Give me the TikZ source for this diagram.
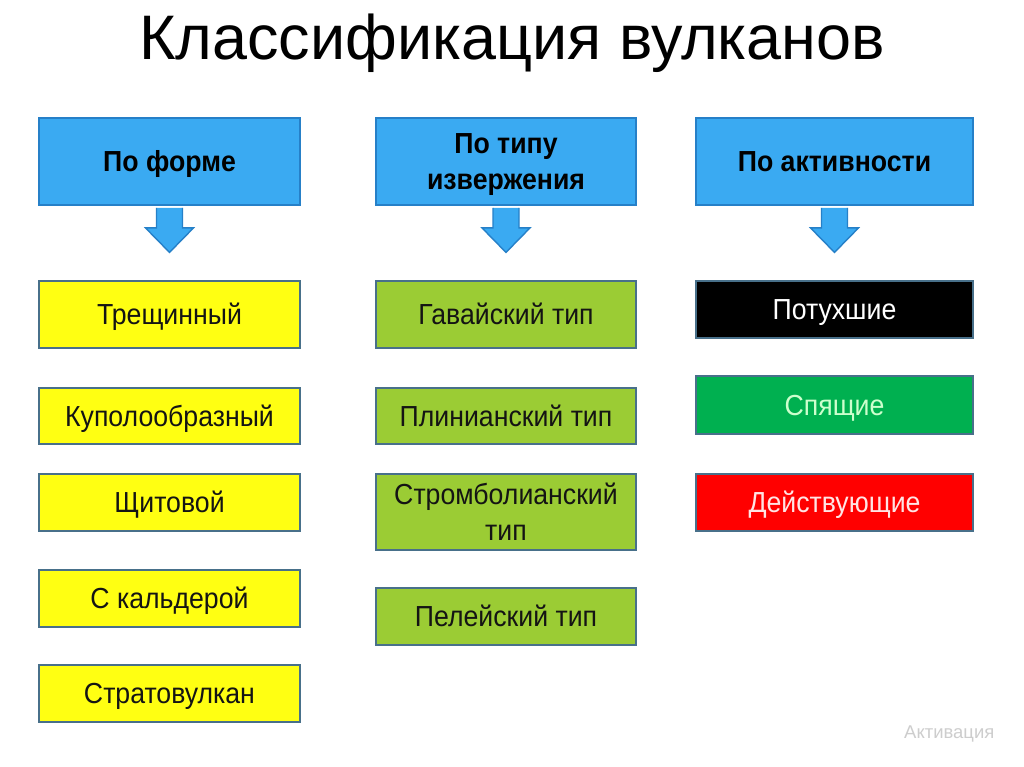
\documentclass[tikz,border=0pt]{standalone}
\usepackage{fontspec}
\setmainfont{Liberation Sans}
\newfontfamily\itemfont[FakeStretch=0.92]{Liberation Sans}
\usetikzlibrary{calc}
\definecolor{HeadClr}{RGB}{58,170,242}
\definecolor{HeadLineClr}{RGB}{38,128,200}
\definecolor{LineClr}{RGB}{72,112,138}
\definecolor{FormClr}{RGB}{255,255,18}
\definecolor{TypeClr}{RGB}{155,204,52}
\definecolor{SleepClr}{RGB}{0,176,80}
\definecolor{LiveClr}{RGB}{255,0,0}
\definecolor{SleepTxtClr}{RGB}{205,255,205}
\definecolor{LiveTxtClr}{RGB}{255,228,228}
\definecolor{TxtClr}{RGB}{20,20,20}
\definecolor{WaterClr}{RGB}{205,205,205}

\tikzset{
  OneLine/.style={text height=11.8pt,text depth=0pt},
  TwoLine/.style={text height=32.2pt,text depth=0pt},
  ItemBox/.style={draw=LineClr,line width=1.6pt,align=center,inner sep=0pt,
    text=TxtClr,font=\itemfont\fontsize{16.5}{20.4}\selectfont},
  FormBox/.style={ItemBox,fill=FormClr,minimum width=5.22cm},
  TypeBox/.style={ItemBox,fill=TypeClr,minimum width=5.2cm},
  ActBox/.style={ItemBox,minimum width=5.54cm},
  HeadBox/.style={ItemBox,draw=HeadLineClr,fill=HeadClr,minimum height=1.74cm,
    text=black,font=\itemfont\bfseries\fontsize{16.5}{20.4}\selectfont},
  DownArrow/.style={fill=HeadClr,draw=HeadLineClr,line width=0.8pt},
}

\begin{document}
\begin{tikzpicture}[x=0.02cm,y=-0.02cm]
\useasboundingbox[fill=white] (0,0) rectangle (1024,767);

\node[anchor=base,font=\fontsize{35.8}{40}\selectfont] (title) at (512,60) {Классификация вулканов};

% headers
\node[HeadBox,OneLine,minimum width=5.22cm] (hForm) at (169.5,161.5) {По форме};
\node[HeadBox,TwoLine,minimum width=5.2cm] (hType) at (506,161.5) {По типу\\извержения};
\node[HeadBox,OneLine,minimum width=5.54cm] (hAct) at (834.5,161.5) {По активности};

\foreach \h in {hForm,hType,hAct}
  \filldraw[DownArrow] ($(\h.south)+(-13,1.5)$) -- ++(0,20) -- ++(-11,0)
    -- ($(\h.south)+(0,46)$) -- ++(24,-24.5) -- ++(-11,0) -- ++(0,-20);

% po forme
\node[FormBox,OneLine,minimum height=1.34cm] (f1) at (169.5,314.5) {Трещинный};
\node[FormBox,OneLine,minimum height=1.12cm] (f2) at (169.5,416) {Куполообразный};
\node[FormBox,OneLine,minimum height=1.14cm] (f3) at (169.5,502.5) {Щитовой};
\node[FormBox,OneLine,minimum height=1.14cm] (f4) at (169.5,598.5) {С кальдерой};
\node[FormBox,OneLine,minimum height=1.14cm] (f5) at (169.5,693.5) {Стратовулкан};

% po tipu izverzheniya
\node[TypeBox,OneLine,minimum height=1.34cm] (t1) at (506,314.5) {Гавайский тип};
\node[TypeBox,OneLine,minimum height=1.12cm] (t2) at (506,416) {Плинианский тип};
\node[TypeBox,TwoLine,minimum height=1.52cm] (t3) at (506,512) {Стромболианский\\тип};
\node[TypeBox,OneLine,minimum height=1.14cm] (t4) at (506,616.5) {Пелейский тип};

% po aktivnosti
\node[ActBox,OneLine,fill=black,text=white,minimum height=1.14cm] (a1) at (834.5,309.5) {Потухшие};
\node[ActBox,OneLine,fill=SleepClr,text=SleepTxtClr,minimum height=1.16cm] (a2) at (834.5,405) {Спящие};
\node[ActBox,OneLine,fill=LiveClr,text=LiveTxtClr,minimum height=1.14cm] (a3) at (834.5,502.5) {Действующие};

\node[anchor=base west,text=WaterClr,font=\fontsize{10.5}{12}\selectfont] (mark) at (898,738) {Активация};
\end{tikzpicture}
\end{document}
